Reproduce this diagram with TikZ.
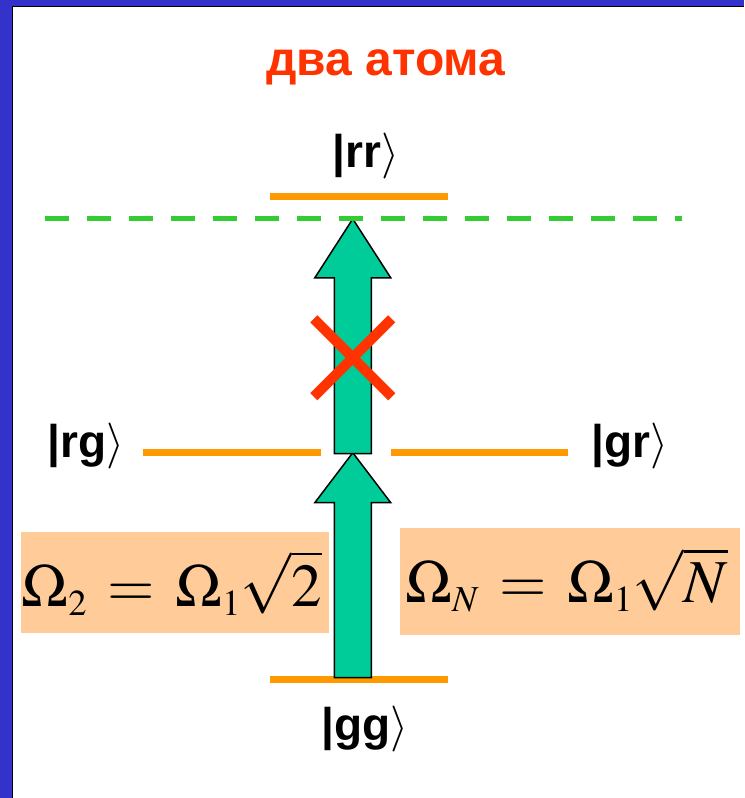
\documentclass[tikz,border=0pt]{standalone}
\usepackage{mathptmx}
\usepackage{fontspec}
\setmainfont{Liberation Sans}
\usetikzlibrary{positioning}

\definecolor{slideblue}{HTML}{3333CC}
\definecolor{titlered}{HTML}{FF3300}
\definecolor{levelorange}{HTML}{FF9900}
\definecolor{dashgreen}{HTML}{33CC33}
\definecolor{pumpgreen}{HTML}{00CC99}
\definecolor{peach}{HTML}{FFCC99}

\begin{document}
\begin{tikzpicture}[x=1pt, y=-1pt,
		level/.style={levelorange, line width=7pt},
		pump/.style={fill=pumpgreen, draw=black, line width=1.5pt, line join=miter},
		ket/.style={anchor=base, inner sep=0pt, font=\fontsize{46}{50}\selectfont\bfseries},
		formbox/.style={fill=peach},
		formula/.style={anchor=base, inner sep=0pt, font=\fontsize{61}{66}\selectfont},
		cross/.style={titlered, line width=10pt}
		]
		
		% Slide frame
		\fill[slideblue] (0,0) rectangle (744,798);
		\fill[white] (13,7) rectangle (744,798);
		\draw[black, line width=1pt] (13,798) -- (13,7) -- (744,7);
		\useasboundingbox (0,0) rectangle (744,798);
		
		% Title
		\node[anchor=base, inner sep=0pt, text=titlered, font=\fontsize{48}{52}\selectfont\bfseries] (title) at (386,76) {два атома};
		
		% Levels
		\coordinate (rrL) at (270,197);
		\coordinate (rrR) at (448,197);
		\coordinate (rgL) at (143,453);
		\coordinate (rgR) at (321,453);
		\coordinate (grL) at (391,453);
		\coordinate (grR) at (568,453);
		\coordinate (ggL) at (270,680);
		\coordinate (ggR) at (448,680);
		\draw[level] (rrL) -- (rrR);
		\draw[level] (rgL) -- (rgR);
		\draw[level] (grL) -- (grR);
		\draw[level] (ggL) -- (ggR);
		
		% Pump arrows
		\draw[pump] (334.5,678) -- (334.5,503) -- (315,503) -- (353,453) -- (391,503) -- (371.5,503) -- (371.5,678) -- cycle;
		\draw[pump] (334.5,454) -- (334.5,278) -- (315,278) -- (353,219) -- (391,278) -- (371.5,278) -- (371.5,454) -- cycle;
		
		% Blockade line
		\draw[dashgreen, line width=5pt, dash pattern=on 24pt off 18pt] (45,219) -- (682,219);
		
		% Forbidden transition
		\draw[cross] (314,319) -- (392,397);
		\draw[cross] (392,319) -- (314,397);
		
		% State labels
		\node[ket] (rr) at (366,168) {|rr$\rangle$};
		\node[ket] (rg) at (86,458) {|rg$\rangle$};
		\node[ket] (gr) at (630,458) {|gr$\rangle$};
		\node[ket] (gg) at (365,741) {|gg$\rangle$};
		
		% Rabi frequencies
		\fill[formbox] (21,532) rectangle (329,633);
		\fill[formbox] (400,528) rectangle (740,635);
		\node[formula] (om2) at (172,607) {$\Omega_{\scriptscriptstyle 2}\,=\,\Omega_{\scriptscriptstyle 1}\sqrt{2}$};
		\node[formula] (omN) at (567,603) {$\Omega_{\scriptscriptstyle N}\,=\,\Omega_{\scriptscriptstyle 1}\sqrt{N}$};
		
	\end{tikzpicture}
\end{document}
